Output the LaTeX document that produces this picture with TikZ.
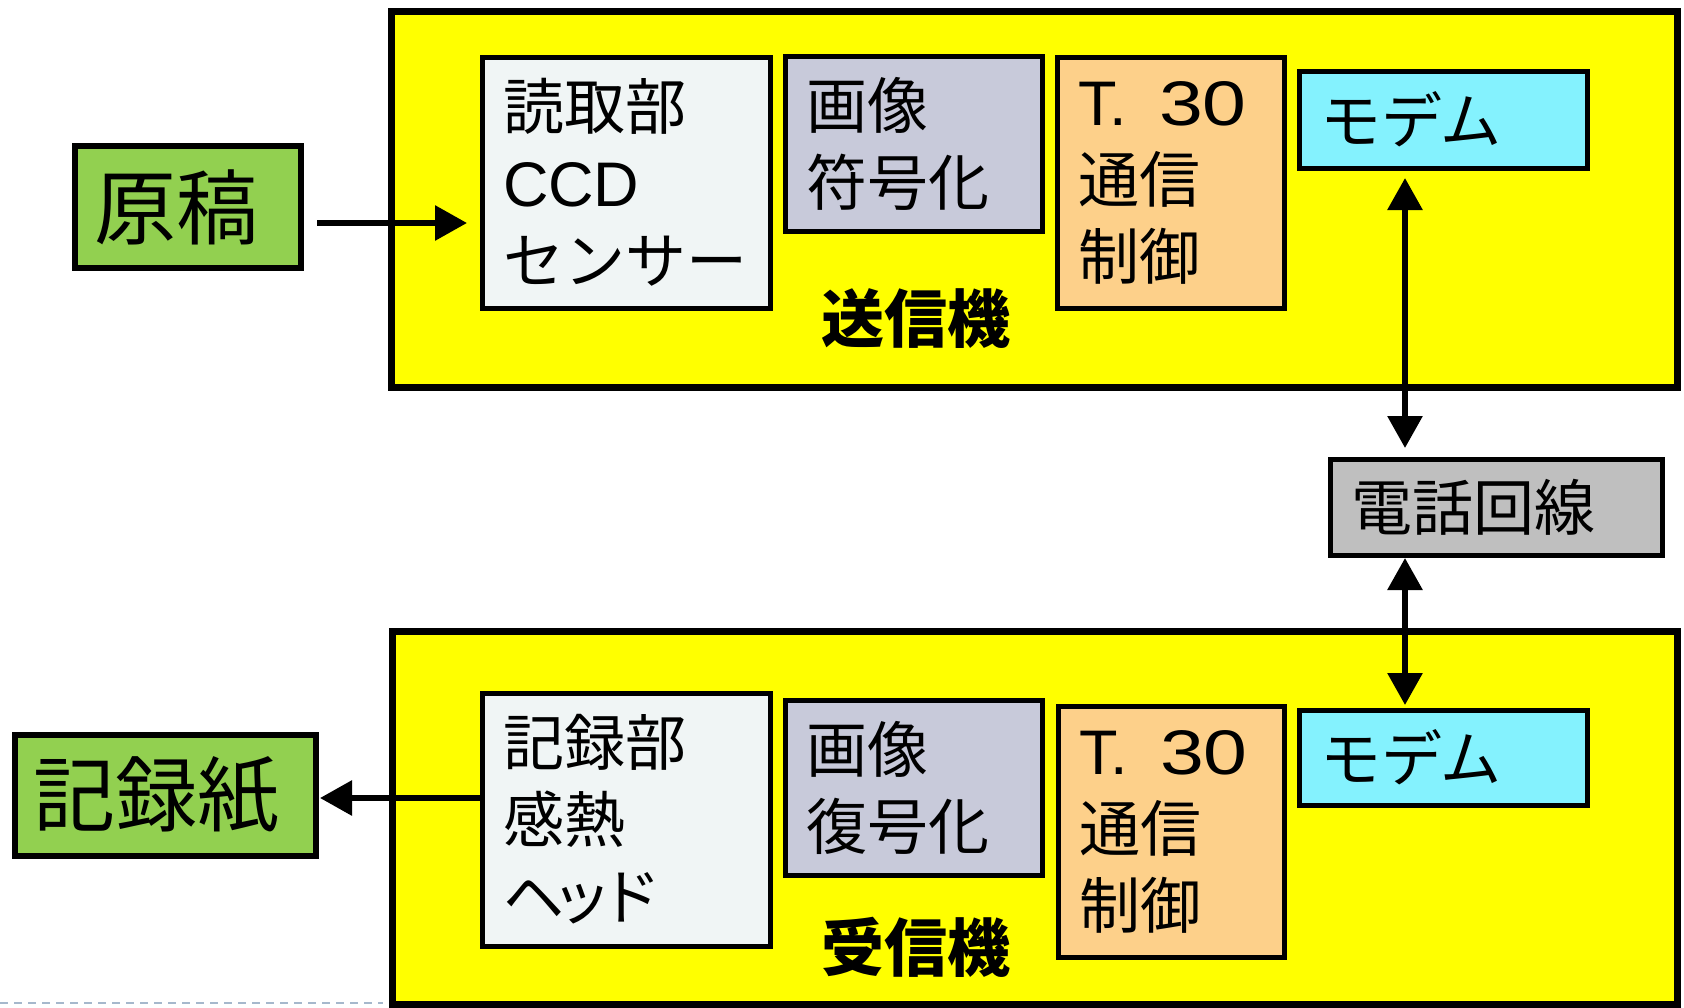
\documentclass[tikz,border=0pt]{standalone}
\usepackage{fontspec}
\setmainfont{Noto Sans CJK JP}
\newfontfamily\lat{Liberation Sans}
\usetikzlibrary{arrows.meta}
\definecolor{yel}{HTML}{FFFF00}
\definecolor{pale}{HTML}{F0F5F5}
\definecolor{lav}{HTML}{C8CADA}
\definecolor{org}{HTML}{FDD08A}
\definecolor{cyn}{HTML}{84F2FE}
\definecolor{gry}{HTML}{BFBFBF}
\definecolor{grn}{HTML}{92D050}
\definecolor{dsh}{HTML}{A6B8CC}
\newcommand{\latin}[1]{{\lat\fontsize{63}{77}\selectfont #1}}
\newcommand{\tthirty}{\latin{T.\hspace{32pt}\scalebox{1.25}[1]{30}}}
\newcommand{\headtxt}{ヘ\kern-0.2emッ\kern-0.2emド}
\begin{document}
\begin{tikzpicture}[x=1pt,y=-1pt,
  frame/.style={draw=black, line width=7pt, fill=yel, anchor=north west, outer sep=0pt, inner sep=0pt},
  blk/.style={draw=black, line width=5pt, anchor=north west, outer sep=0pt, inner xsep=21pt, inner ysep=0pt, align=left, font=\fontsize{61}{77}\selectfont},
  big/.style={draw=black, line width=6pt, fill=grn, anchor=north west, outer sep=0pt, inner xsep=19pt, inner ysep=0pt, align=left, font=\fontsize{82}{90}\selectfont},
  lbl/.style={font=\bfseries\fontsize{63}{70}\selectfont},
  arr/.style={line width=6pt, -{Triangle[width=34pt,length=32pt]}},
  darr/.style={line width=6pt, {Triangle[width=34pt,length=32pt]}-{Triangle[width=34pt,length=32pt]}}
]
\useasboundingbox (0,0) rectangle (1684,1007);
% dashed line at bottom
\coordinate (d1) at (0,1003);
\coordinate (d2) at (383,1003);
\draw[dsh, line width=2.5pt, dash pattern=on 7.5pt off 6.5pt] (d1) -- (d2);
% frames
\node[frame, minimum width=1286pt, minimum height=376pt] (tx) at (391,11) {};
\node[frame, minimum width=1285pt, minimum height=373pt] (rx) at (392,631) {};
% sender blocks
\node[blk, fill=pale, text width=246pt, minimum height=251pt] (rd) at (482,57) {読取部\\\latin{CCD}\\センサー};
\node[blk, fill=lav, text width=215pt, minimum height=175pt] (enc) at (785,56) {画像\\符号化};
\node[blk, fill=org, text width=185pt, minimum height=251pt] (t30a) at (1057,57) {\tthirty\\通信\\制御};
\node[blk, fill=cyn, text width=246pt, minimum height=97pt] (mt) at (1299,71) {モデム};
\node[lbl] (snd) at (916,319) {送信機};
% phone line
\node[blk, fill=gry, text width=290pt, minimum height=96pt] (ph) at (1330,459) {電話回線};
% receiver blocks
\node[blk, fill=pale, text width=246pt, minimum height=253pt] (rec) at (482,693) {記録部\\感熱\\\headtxt};
\node[blk, fill=lav, text width=215pt, minimum height=175pt] (dec) at (785,700) {画像\\復号化};
\node[blk, fill=org, text width=184pt, minimum height=251pt] (t30b) at (1058,706) {\tthirty\\通信\\制御};
\node[blk, fill=cyn, text width=246pt, minimum height=95pt] (ml) at (1299,710) {モデム};
\node[lbl] (rcv) at (916,947) {受信機};
% outside boxes
\node[big, text width=188pt, minimum height=122pt] (orig) at (75,146) {原稿};
\node[big, text width=263pt, minimum height=121pt] (kp) at (15,735) {記録紙};
% connectors
\coordinate (ay) at (0,223);
\coordinate (by) at (0,798);
\coordinate (ax) at (1405,0);
\draw[arr, shorten <=16pt, shorten >=15pt] (orig.east |- ay) -- (rd.west |- ay);
\draw[arr, shorten >=4pt] (rec.west |- by) -- (kp.east |- by);
\draw[darr, shorten <=10pt, shorten >=11pt] (mt.south -| ax) -- (ph.north -| ax);
\draw[darr, shorten <=3pt, shorten >=5pt] (ph.south -| ax) -- (ml.north -| ax);
\end{tikzpicture}
\end{document}
